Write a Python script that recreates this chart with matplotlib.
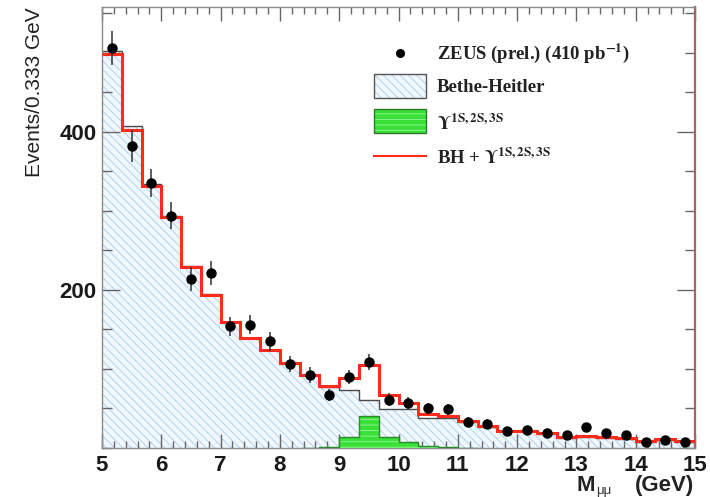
import numpy as np
import matplotlib
matplotlib.use("Agg")
import matplotlib.pyplot as plt
from matplotlib.patches import Rectangle
from matplotlib.lines import Line2D
from matplotlib.ticker import MultipleLocator, FixedLocator

# ---- binning: 30 bins of 0.333 GeV between 5 and 15 GeV ----
mass_min, mass_max, n_bins = 5.0, 15.0, 30
edges = np.linspace(mass_min, mass_max, n_bins + 1)
centres = 0.5 * (edges[:-1] + edges[1:])

# ---- measured events per bin and their uncertainties ----
data_counts = [506, 382, 335, 294, 214, 221, 154, 156, 135, 106,
               92, 67, 90, 109, 61, 57, 50, 49, 33, 31,
               22, 23, 19, 17, 26, 19, 16, 8, 10, 7]
data_errors = [22, 20, 18, 17, 15, 15, 12, 12, 12, 10,
               10, 8, 9, 10, 8, 8, 7, 7, 6, 6,
               5, 5, 4, 4, 5, 4, 4, 3, 3, 3]

# ---- Monte Carlo expectations ----
bethe_heitler = [502, 407, 334, 294, 230, 195, 160, 139, 124, 108,
                 92, 77, 73, 61, 49, 49, 38, 38, 33, 27,
                 21, 21, 18, 13, 14, 13, 12, 8, 10, 8]
upsilon = [0, 0, 0, 0, 0, 0, 0, 0, 0, 0,
           0.5, 1, 14, 41, 14, 8, 3, 1, 0.5, 0,
           0, 0, 0, 0, 0, 0, 0, 0, 0, 0]
bh_plus_upsilon = [498, 403, 332, 292, 229, 194, 160, 139, 124, 108,
                   92, 79, 89, 105, 67, 57, 43, 40, 34, 28,
                   22, 22, 19, 14, 15, 14, 13, 9, 11, 9]

W, H = 710, 497
plt.rcParams['font.family'] = ['Liberation Sans', 'DejaVu Sans']
plt.rcParams['mathtext.fontset'] = 'stix'
plt.rcParams['hatch.linewidth'] = 0.7

BH_HATCH = '\\\\\\\\'
BH_FACE = '#f0f7fd'
BH_LINES = '#b0d2ee'

fig = plt.figure(figsize=(W / 100, H / 100), dpi=100)
fig.patch.set_facecolor('white')
ax = fig.add_axes([102 / W, 1 - 448 / H, (695 - 102) / W, (448 - 7) / H])

# Bethe-Heitler: hatched light-blue fill and thin dark outline
ax.stairs(bethe_heitler, edges, fill=True, facecolor=BH_FACE,
          edgecolor=BH_LINES, hatch=BH_HATCH, linewidth=0, zorder=1)
ax.stairs(bethe_heitler, edges, baseline=None, color='#4a4a4a',
          linewidth=1.0, zorder=2)

# Upsilon(1S,2S,3S) signal, only over the bins where it is populated
ups = np.asarray(upsilon)
nz = np.nonzero(ups)[0]
lo, hi = nz[0], nz[-1] + 1
ax.stairs(ups[lo:hi], edges[lo:hi + 1], fill=True, facecolor='#38e038',
          edgecolor='#8cf58c', hatch='---', linewidth=0, zorder=3)
ax.stairs(ups[lo:hi], edges[lo:hi + 1], color='#2a8a2a', linewidth=1.0,
          zorder=4)

# sum of both contributions
ax.stairs(bh_plus_upsilon, edges, baseline=None, color='#ff2a1a',
          linewidth=2.2, zorder=5)

# data points
ax.errorbar(centres, data_counts, yerr=data_errors, fmt='o', color='black',
            ecolor='#333333', elinewidth=1.1, markersize=6.5, capsize=0,
            zorder=6)

ax.set_xlim(mass_min, mass_max)
ax.set_ylim(0, 558)

ax.xaxis.set_major_locator(MultipleLocator(1))
ax.xaxis.set_minor_locator(MultipleLocator(0.2))
ax.yaxis.set_major_locator(FixedLocator([200, 400]))
ax.yaxis.set_minor_locator(MultipleLocator(50))

ax.tick_params(which='both', direction='in', top=True, right=True,
               color='#666666', width=1.0, labelcolor='#1a1a1a')
ax.tick_params(axis='x', which='major', length=10, labelsize=16, pad=5)
ax.tick_params(axis='x', which='minor', length=5)
ax.tick_params(axis='y', which='major', length=13, labelsize=16, pad=4)
ax.tick_params(axis='y', which='minor', length=7)
for lbl in ax.get_xticklabels() + ax.get_yticklabels():
    lbl.set_fontweight('bold')

for side in ('left', 'top', 'bottom'):
    ax.spines[side].set_color('#8a8a8a')
    ax.spines[side].set_linewidth(1.0)
ax.spines['right'].set_color('#a86464')
ax.spines['right'].set_linewidth(1.6)


def fx(px):
    return px / W


def fy(py):
    return 1 - py / H


# axis titles
fig.text(fx(35), fy(7), 'Events/0.333 GeV', rotation=90, ha='center',
         va='top', fontsize=15, color='#222222')
fig.text(fx(576), fy(491), 'M', ha='left', va='baseline', fontsize=16,
         fontweight='bold', color='#222222')
fig.text(fx(596), fy(494), '\u03bc\u03bc', ha='left', va='baseline',
         fontsize=9.5, color='#333333')
fig.text(fx(694), fy(491), '(GeV)', ha='right', va='baseline', fontsize=16,
         fontweight='bold', color='#222222')

# ---- legend ----
serif = ['Liberation Serif', 'DejaVu Serif']
leg_fs = 13.5
text_x = 437

fig.add_artist(Line2D([fx(400)], [fy(53)], marker='o', color='black',
                      markersize=5.5, transform=fig.transFigure))
fig.text(fx(text_x), fy(53), r'ZEUS (prel.) (410 pb$^{\mathbf{-1}}$)',
         ha='left', va='center', fontsize=leg_fs, fontweight='bold',
         family=serif, color='#222222')

fig.add_artist(Rectangle((fx(374), fy(98)), fx(426) - fx(374),
                         fy(74) - fy(98), transform=fig.transFigure,
                         facecolor=BH_FACE, edgecolor=BH_LINES,
                         hatch=BH_HATCH, linewidth=0))
fig.add_artist(Rectangle((fx(374), fy(98)), fx(426) - fx(374),
                         fy(74) - fy(98), transform=fig.transFigure,
                         facecolor='none', edgecolor='#555555',
                         linewidth=1.0))
fig.text(fx(text_x), fy(88), 'Bethe-Heitler', ha='left', va='center',
         fontsize=leg_fs, fontweight='bold', family=serif, color='#222222')

fig.add_artist(Rectangle((fx(374), fy(133)), fx(426) - fx(374),
                         fy(109) - fy(133), transform=fig.transFigure,
                         facecolor='#38e038', edgecolor='#8cf58c',
                         hatch='---', linewidth=0))
fig.add_artist(Rectangle((fx(374), fy(133)), fx(426) - fx(374),
                         fy(109) - fy(133), transform=fig.transFigure,
                         facecolor='none', edgecolor='#2a7a2a',
                         linewidth=1.0))
fig.text(fx(text_x), fy(124), r'$\mathbf{\Upsilon}^{\mathbf{1S,2S,3S}}$',
         ha='left', va='center', fontsize=leg_fs, family=serif,
         color='#222222')

fig.add_artist(Line2D([fx(374), fx(426)], [fy(156), fy(156)],
                      color='#ff2a1a', linewidth=1.5,
                      transform=fig.transFigure))
fig.text(fx(text_x), fy(158),
         r'BH + $\mathbf{\Upsilon}^{\mathbf{1S,2S,3S}}$',
         ha='left', va='center', fontsize=leg_fs, fontweight='bold',
         family=serif, color='#222222')

fig.savefig('out.png', dpi=100, facecolor='white')
